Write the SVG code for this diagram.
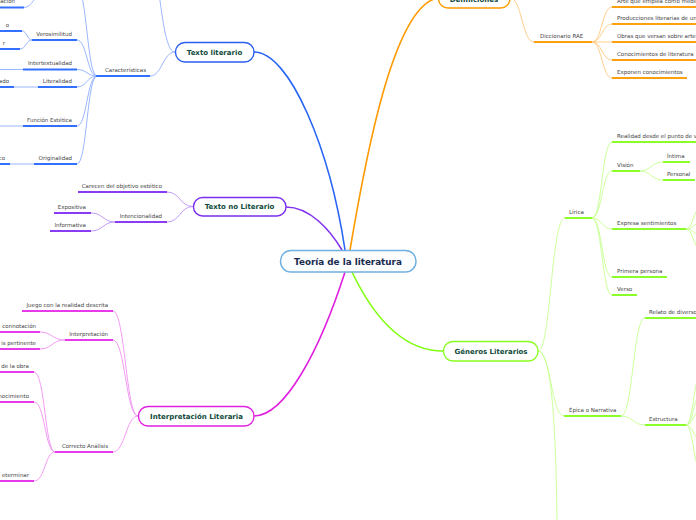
<svg xmlns="http://www.w3.org/2000/svg" width="696" height="520" viewBox="0 0 696 520">
<style>
text{font-family:"DejaVu Sans","Verdana",sans-serif}
.lb{font-size:5.5px;fill:#444}
.le{font-size:5.5px;fill:#444;text-anchor:end}
.nt{font-size:7px;font-weight:bold;fill:#0f4a3a;text-anchor:middle}
.box{fill:#fff;stroke-width:1.4}
.c{fill:none;stroke-width:0.9}
.m{fill:none;stroke-width:1.6}
.u{fill:none;stroke-width:2}
.bl .c{stroke:#8eaeff}.bl .u{stroke:#3370ff}
.pu .c{stroke:#b890f4}.pu .u{stroke:#8a3cf5}
.mg .c{stroke:#f290f2}.mg .u{stroke:#e83ae8}
.or .c{stroke:#ffca80}.or .u{stroke:#ffa010}
.gr .c{stroke:#c6ff90}.gr .u{stroke:#8cff2a}
</style>
<rect width="696" height="520" fill="#fff"/>
<g id="connectors">
<path class="m" stroke="#2a66f5" d="M254,52 C290,52 330,150 345,250"/>
<path class="m" stroke="#ff9a00" d="M350,250 C366,155 394,5 438,-2"/>
<path class="m" stroke="#8030ee" d="M286,207 C310,207 330,230 342,250"/>
<path class="m" stroke="#e020e0" d="M254,416 C285,416 320,350 345,272"/>
<path class="m" stroke="#80ff10" d="M352,272 C375,320 405,351 443,351"/>
<g class="bl">
<path class="c" d="M150,76 C162,76 163,52 175,52"/>
<path class="c" d="M175,52 C165,52 162,10 158,-12"/>
<path class="c" d="M77,-12 C87,-12 87,76 97,76"/>
<path class="c" d="M77,40 C87,40 87,76 97,76"/>
<path class="c" d="M77,69.5 C87,69.5 87,76 97,76"/>
<path class="c" d="M77,87 C87,87 87,76 97,76"/>
<path class="c" d="M77,126 C87,126 87,76 97,76"/>
<path class="c" d="M77,164 C87,164 87,76 97,76"/>
<path class="c" d="M24,7.5 C32,7.5 35,-5 42,-8"/>
<path class="c" d="M22,31 C27,31 27,40 32,40"/>
<path class="c" d="M20,49 C26,49 26,40 32,40"/>
<path class="c" d="M0,69.5 L23,69.5"/>
<path class="c" d="M14,87 L38,87"/>
<path class="c" stroke-width="1.6" d="M0,126 L23,126"/>
<path class="c" d="M10,164 L34,164"/>
</g>
<g class="pu">
<path class="c" d="M167,192 C180,192 180,206.5 193,206.5"/>
<path class="c" d="M167,222 C180,222 180,206.5 193,206.5"/>
<path class="c" d="M91,213 C103,213 103,222 115,222"/>
<path class="c" d="M91,231 C103,231 103,222 115,222"/>
</g>
<g class="mg">
<path class="c" d="M113,311 C125,311 126,416 138,416"/>
<path class="c" d="M113,340 C125,340 126,416 138,416"/>
<path class="c" d="M113,452 C125,452 126,416 138,416"/>
<path class="c" d="M40,332 C52,332 52,340 65,340"/>
<path class="c" d="M40,349 C52,349 52,340 65,340"/>
<path class="c" d="M34,372 C45,372 45,452 55,452"/>
<path class="c" d="M34,402 C45,402 45,452 55,452"/>
<path class="c" d="M34,481 C45,481 45,452 55,452"/>
</g>
<g class="or">
<path class="c" d="M510,-2 C522,-2 522,42 534,42"/>
<path class="c" d="M592,42 C602,42 602,7 612,7"/>
<path class="c" d="M592,42 C602,42 602,24 612,24"/>
<path class="c" d="M592,42 L612,42"/>
<path class="c" d="M592,42 C602,42 602,60 612,60"/>
<path class="c" d="M592,42 C602,42 602,78 612,78"/>
</g>
<g class="gr">
<path class="c" d="M538,351 C551,351 551,218 565,218"/>
<path class="c" d="M538,351 C551,351 551,416 564,416"/>
<path class="c" d="M538,351 C551,351 556,420 557,525"/>
<path class="c" d="M592,218 C602,218 602,142 612,142"/>
<path class="c" d="M592,218 C602,218 602,171 612,171"/>
<path class="c" d="M592,218 C602,218 602,229 612,229"/>
<path class="c" d="M592,218 C602,218 602,277 612,277"/>
<path class="c" d="M592,218 C602,218 602,295 612,295"/>
<path class="c" d="M640,171 C651,171 651,162 663,162"/>
<path class="c" d="M640,171 C651,171 651,180 663,180"/>
<path class="c" d="M686,229 C693,229 693,210 700,208"/>
<path class="c" d="M686,229 C693,229 693,224 700,223"/>
<path class="c" d="M686,229 C693,229 693,234 700,235"/>
<path class="c" d="M686,229 C693,229 693,247 700,249"/>
<path class="c" d="M621,416 C633,416 633,318 645,318"/>
<path class="c" d="M621,416 C633,416 633,425 645,425"/>
<path class="c" d="M686,425 C693,425 694,377 700,375"/>
<path class="c" d="M686,425 C693,425 694,396 700,395"/>
<path class="c" d="M686,425 C693,425 694,411 700,410"/>
<path class="c" d="M686,425 C693,425 694,439 700,440"/>
<path class="c" d="M686,425 C693,425 694,468 700,470"/>
</g>
</g>

<g id="central">
<rect x="280.5" y="250.5" width="135.5" height="21.5" rx="10.5" fill="#fbfdff" stroke="#70b0e0" stroke-width="1.4"/>
<text x="348" y="264.5" font-size="8.8" font-weight="bold" fill="#1a2a4e" text-anchor="middle">Teoría de la literatura</text>
</g>

<g id="texto-literario" class="bl">
<rect class="box" x="175.5" y="42.5" width="78.5" height="19.5" rx="9.5" stroke="#2a5ef0"/>
<text class="nt" x="214.5" y="54.8">Texto literario</text>
</g>
<g id="caracteristicas" class="bl"><path class="u" d="M96,76 H150"/><text class="lb" x="105" y="71.5">Características</text></g>
<g id="inacion" class="bl"><path class="u" d="M0,7.5 H24"/><text class="le" x="15" y="2.5">inación</text></g>
<g id="verosimilitud" class="bl"><path class="u" d="M32,40 H77"/><text class="le" x="72" y="35.5">Verosimilitud</text></g>
<g id="vero-a" class="bl"><path class="u" d="M0,31 H22"/><text class="le" x="9" y="26.5">o</text></g>
<g id="vero-b" class="bl"><path class="u" d="M0,49 H20"/><text class="le" x="5" y="44.5">r</text></g>
<g id="intertextualidad" class="bl"><path class="u" d="M23,69.5 H77"/><text class="le" x="72" y="65">Intertextualidad</text></g>
<g id="literalidad" class="bl"><path class="u" d="M38,87 H77"/><text class="le" x="72" y="82.5">Literalidad</text></g>
<g id="lit-a" class="bl"><path class="u" d="M0,87 H14"/><text class="le" x="9" y="82.5">ado</text></g>
<g id="funcion-estetica" class="bl"><path class="u" d="M23,126 H77"/><text class="le" x="72" y="121.5">Función Estética</text></g>
<g id="originalidad" class="bl"><path class="u" d="M34,164 H77"/><text class="le" x="72" y="159.5">Originalidad</text></g>
<g id="orig-a" class="bl"><path class="u" d="M0,164 H10"/><text class="le" x="5" y="159.5">co</text></g>

<g id="texto-no-literario" class="pu">
<rect class="box" x="193.5" y="197.5" width="92.5" height="18.5" rx="9" stroke="#7a2ef0"/>
<text class="nt" x="239.5" y="209.3">Texto no Literario</text>
</g>
<g id="carecen" class="pu"><path class="u" d="M78,192 H167"/><text class="le" x="162" y="187.5">Carecen del objetivo estético</text></g>
<g id="intencionalidad" class="pu"><path class="u" d="M115,222 H167"/><text class="le" x="162" y="217.5">Intencionalidad</text></g>
<g id="expositiva" class="pu"><path class="u" d="M54,213 H91"/><text class="le" x="86" y="208.5">Expositiva</text></g>
<g id="informativa" class="pu"><path class="u" d="M50,231 H91"/><text class="le" x="86" y="226.5">Informativa</text></g>

<g id="interpretacion-literaria" class="mg">
<rect class="box" x="138.5" y="406.5" width="115.5" height="19.5" rx="9.5" stroke="#e020e0"/>
<text class="nt" x="196.5" y="418.8">Interpretación Literaria</text>
</g>
<g id="juego" class="mg"><path class="u" d="M22,311 H113"/><text class="le" x="108" y="306.5">Juego con la realidad descrita</text></g>
<g id="interpretacion" class="mg"><path class="u" d="M65,340 H113"/><text class="le" x="108" y="335.5">Interpretación</text></g>
<g id="connotacion" class="mg"><path class="u" d="M0,332 H40"/><text class="le" x="36" y="327.5">connotación</text></g>
<g id="pertinente" class="mg"><path class="u" d="M0,349 H40"/><text class="le" x="36" y="344.5">is pertinente</text></g>
<g id="correcto-analisis" class="mg"><path class="u" d="M55,452 H113"/><text class="le" x="108" y="447.5">Correcto Análisis</text></g>
<g id="obra" class="mg"><path class="u" d="M0,372 H34"/><text class="le" x="29" y="367.5">de la obra</text></g>
<g id="conocimiento" class="mg"><path class="u" d="M0,402 H34"/><text class="le" x="29" y="397.5">nocimiento</text></g>
<g id="determinar" class="mg"><path class="u" d="M0,481 H34"/><text class="le" x="29" y="476.5">eterminar</text></g>

<g id="definiciones" class="or">
<rect class="box" x="438.5" y="-12" width="71.5" height="20" rx="9.5" stroke="#ff9a00"/>
<text class="nt" x="474" y="1.5">Definiciones</text>
</g>
<g id="diccionario-rae" class="or"><path class="u" d="M534,42 H592"/><text class="lb" x="540" y="37.5">Diccionario RAE</text></g>
<g id="def-1" class="or"><path class="u" d="M612,7 H696"/><text class="lb" x="617" y="2.5">Arte que emplea como medio</text></g>
<g id="def-2" class="or"><path class="u" d="M612,24 H696"/><text class="lb" x="617" y="19.5">Producciones literarias de un</text></g>
<g id="def-3" class="or"><path class="u" d="M612,42 H696"/><text class="lb" x="617" y="37.5">Obras que versan sobre arte</text></g>
<g id="def-4" class="or"><path class="u" d="M612,60 H696"/><text class="lb" x="617" y="55.5">Conocimientos de literatura</text></g>
<g id="def-5" class="or"><path class="u" d="M612,78 H687"/><text class="lb" x="617" y="73.5">Exponen conocimientos</text></g>

<g id="generos-literarios" class="gr">
<rect class="box" x="443.5" y="341.5" width="94.5" height="19.5" rx="9.5" stroke="#88ff20"/>
<text class="nt" x="491" y="353.8">Géneros Literarios</text>
</g>
<g id="lirica" class="gr"><path class="u" d="M565,218 H592"/><text class="lb" x="569" y="213.5">Lírica</text></g>
<g id="realidad" class="gr"><path class="u" d="M612,142 H696"/><text class="lb" x="617" y="137.5">Realidad desde el punto de v</text></g>
<g id="vision" class="gr"><path class="u" d="M612,171 H640"/><text class="lb" x="617" y="166.5">Visión</text></g>
<g id="intima" class="gr"><path class="u" d="M663,162 H690"/><text class="lb" x="667" y="157.5">Íntima</text></g>
<g id="personal" class="gr"><path class="u" d="M663,180 H695"/><text class="lb" x="667" y="175.5">Personal</text></g>
<g id="expresa" class="gr"><path class="u" d="M612,229 H686"/><text class="lb" x="617" y="224.5">Expresa sentimientos</text></g>
<g id="primera-persona" class="gr"><path class="u" d="M612,277 H667"/><text class="lb" x="617" y="272.5">Primera persona</text></g>
<g id="verso" class="gr"><path class="u" d="M612,295 H637"/><text class="lb" x="617" y="290.5">Verso</text></g>
<g id="epica" class="gr"><path class="u" d="M564,416 H621"/><text class="lb" x="569" y="411.5">Épica o Narrativa</text></g>
<g id="relato" class="gr"><path class="u" d="M645,318 H696"/><text class="lb" x="649" y="313.5">Relato de diverso</text></g>
<g id="estructura" class="gr"><path class="u" d="M645,425 H686"/><text class="lb" x="649" y="420.5">Estructura</text></g>
</svg>
